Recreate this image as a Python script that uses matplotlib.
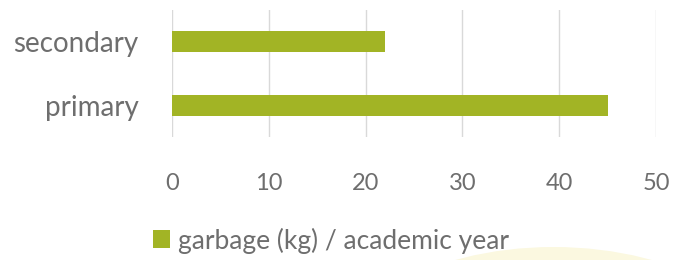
import matplotlib
matplotlib.use('Agg')
import matplotlib.pyplot as plt
from matplotlib.patches import Ellipse

# data
categories = ['primary', 'secondary']
garbage = [45, 22]
xticks = [0, 10, 20, 30, 40, 50]
series_name = 'garbage (kg) / academic year'

bar_color = '#a2b425'
text_color = '#6e6e6e'

plt.rcParams['font.family'] = ['Lato', 'DejaVu Sans']

fig = plt.figure(figsize=(6.75, 2.6), dpi=100)

# faint decorative circle in the lower right
circ = Ellipse((0.82, -0.5), 0.7, 1.1, transform=fig.transFigure,
               facecolor='#fbf8e0', edgecolor='none', zorder=0)
fig.patches.append(circ)

ax = fig.add_axes([0.2548, 0.473, 0.7171, 0.4885])
ax.patch.set_alpha(0)
bars = ax.barh(categories, garbage, height=0.33, color=bar_color,
               label=series_name, zorder=3)

ax.set_xlim(0, 50)
ax.set_ylim(-0.5, 1.5)
ax.set_xticks(xticks)
ax.xaxis.grid(True, color='#d9d9d9', linewidth=1)
ax.set_axisbelow(True)
for s in ax.spines.values():
    s.set_visible(False)
ax.tick_params(axis='both', length=0, colors=text_color)
ax.tick_params(axis='x', pad=26, labelsize=17)
ax.tick_params(axis='y', pad=24, labelsize=20)

leg = fig.legend(handles=[bars], labels=[series_name], loc='center',
                 bbox_to_anchor=(0.49, 0.075), frameon=False, fontsize=19,
                 handlelength=0.65, handleheight=0.65, handletextpad=0.3,
                 labelcolor=text_color)

fig.savefig('out.png', dpi=100)
